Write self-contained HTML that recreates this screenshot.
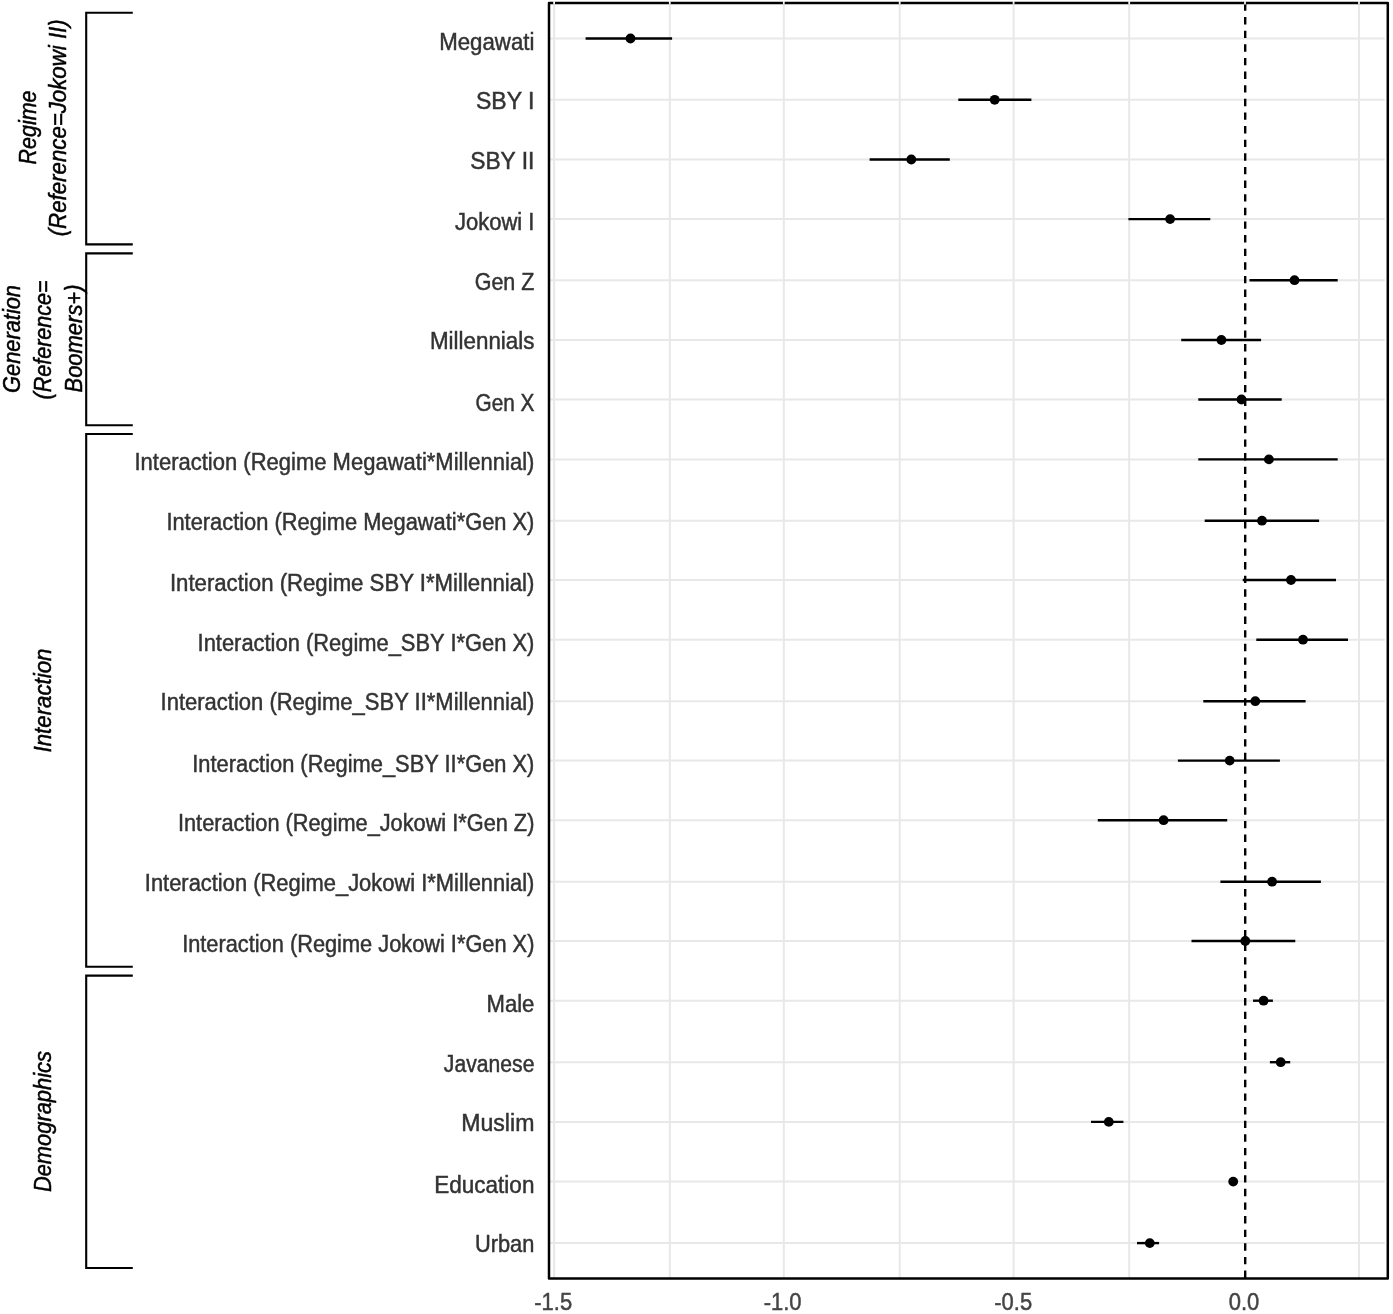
<!DOCTYPE html>
<html lang="en"><head><meta charset="utf-8"><title>Coefficient plot</title>
<style>html,body{margin:0;padding:0;background:#fff}svg{display:block}text{font-family:"Liberation Sans",Arial,sans-serif}.yl{font-size:22px;fill:#333;stroke:#333;stroke-width:.45px;text-anchor:end}.xl{font-size:22px;fill:#444;stroke:#444;stroke-width:.45px;text-anchor:middle}.gl{font-size:22px;font-style:italic;fill:#000;stroke:#000;stroke-width:.45px;text-anchor:middle}</style></head><body>
<svg width="1393" height="1314" viewBox="0 0 1393 1314">
<rect width="1393" height="1314" fill="#fff"/>
<g stroke="#e8e8e8" stroke-width="2" fill="none">
<line x1="554.1" y1="2.9" x2="554.1" y2="1278.5"/>
<line x1="669.8" y1="2.9" x2="669.8" y2="1278.5"/>
<line x1="783.8" y1="2.9" x2="783.8" y2="1278.5"/>
<line x1="899.7" y1="2.9" x2="899.7" y2="1278.5"/>
<line x1="1013.6" y1="2.9" x2="1013.6" y2="1278.5"/>
<line x1="1129.2" y1="2.9" x2="1129.2" y2="1278.5"/>
<line x1="1359.0" y1="2.9" x2="1359.0" y2="1278.5"/>
<line x1="549.0" y1="38.5" x2="1384.8" y2="38.5"/>
<line x1="549.0" y1="99.8" x2="1384.8" y2="99.8"/>
<line x1="549.0" y1="159.5" x2="1384.8" y2="159.5"/>
<line x1="549.0" y1="219.1" x2="1384.8" y2="219.1"/>
<line x1="549.0" y1="280.2" x2="1384.8" y2="280.2"/>
<line x1="549.0" y1="340.0" x2="1384.8" y2="340.0"/>
<line x1="549.0" y1="399.5" x2="1384.8" y2="399.5"/>
<line x1="549.0" y1="459.4" x2="1384.8" y2="459.4"/>
<line x1="549.0" y1="520.7" x2="1384.8" y2="520.7"/>
<line x1="549.0" y1="580.0" x2="1384.8" y2="580.0"/>
<line x1="549.0" y1="639.7" x2="1384.8" y2="639.7"/>
<line x1="549.0" y1="701.2" x2="1384.8" y2="701.2"/>
<line x1="549.0" y1="760.6" x2="1384.8" y2="760.6"/>
<line x1="549.0" y1="820.2" x2="1384.8" y2="820.2"/>
<line x1="549.0" y1="881.7" x2="1384.8" y2="881.7"/>
<line x1="549.0" y1="941.0" x2="1384.8" y2="941.0"/>
<line x1="549.0" y1="1000.7" x2="1384.8" y2="1000.7"/>
<line x1="549.0" y1="1062.2" x2="1384.8" y2="1062.2"/>
<line x1="549.0" y1="1121.9" x2="1384.8" y2="1121.9"/>
<line x1="549.0" y1="1181.6" x2="1384.8" y2="1181.6"/>
<line x1="549.0" y1="1243.1" x2="1384.8" y2="1243.1"/>
</g>
<g stroke="#000" stroke-width="2.4" fill="none">
<line x1="585.6" y1="38.5" x2="672.1" y2="38.5"/>
<line x1="958.3" y1="99.8" x2="1031.4" y2="99.8"/>
<line x1="869.6" y1="159.5" x2="949.8" y2="159.5"/>
<line x1="1128.4" y1="219.1" x2="1210.3" y2="219.1"/>
<line x1="1249.5" y1="280.2" x2="1337.7" y2="280.2"/>
<line x1="1181.2" y1="340.0" x2="1261.1" y2="340.0"/>
<line x1="1198.3" y1="399.5" x2="1281.7" y2="399.5"/>
<line x1="1198.3" y1="459.4" x2="1337.7" y2="459.4"/>
<line x1="1204.7" y1="520.7" x2="1319.1" y2="520.7"/>
<line x1="1242.7" y1="580.0" x2="1336.0" y2="580.0"/>
<line x1="1256.3" y1="639.7" x2="1348.0" y2="639.7"/>
<line x1="1203.3" y1="701.2" x2="1305.6" y2="701.2"/>
<line x1="1177.9" y1="760.6" x2="1279.9" y2="760.6"/>
<line x1="1097.8" y1="820.2" x2="1227.2" y2="820.2"/>
<line x1="1220.4" y1="881.7" x2="1320.9" y2="881.7"/>
<line x1="1191.5" y1="941.0" x2="1295.3" y2="941.0"/>
<line x1="1253.0" y1="1000.7" x2="1272.9" y2="1000.7"/>
<line x1="1269.9" y1="1062.2" x2="1290.2" y2="1062.2"/>
<line x1="1091.0" y1="1121.9" x2="1123.4" y2="1121.9"/>
<line x1="1137.0" y1="1243.1" x2="1159.1" y2="1243.1"/>
</g>
<g fill="#000">
<circle cx="630.5" cy="38.5" r="4.9"/>
<circle cx="994.7" cy="99.8" r="4.9"/>
<circle cx="911.3" cy="159.5" r="4.9"/>
<circle cx="1170.1" cy="219.1" r="4.9"/>
<circle cx="1294.5" cy="280.2" r="4.9"/>
<circle cx="1221.4" cy="340.0" r="4.9"/>
<circle cx="1241.5" cy="399.5" r="4.9"/>
<circle cx="1268.9" cy="459.4" r="4.9"/>
<circle cx="1262.0" cy="520.7" r="4.9"/>
<circle cx="1291.0" cy="580.0" r="4.9"/>
<circle cx="1303.0" cy="639.7" r="4.9"/>
<circle cx="1255.3" cy="701.2" r="4.9"/>
<circle cx="1229.7" cy="760.6" r="4.9"/>
<circle cx="1163.6" cy="820.2" r="4.9"/>
<circle cx="1272.1" cy="881.7" r="4.9"/>
<circle cx="1245.3" cy="941.0" r="4.9"/>
<circle cx="1263.6" cy="1000.7" r="4.9"/>
<circle cx="1280.7" cy="1062.2" r="4.9"/>
<circle cx="1108.8" cy="1121.9" r="4.9"/>
<circle cx="1233.2" cy="1181.6" r="4.9"/>
<circle cx="1149.8" cy="1243.1" r="4.9"/>
</g>
<line x1="1245.2" y1="1278.5" x2="1245.2" y2="2.9" stroke="#000" stroke-width="2.4" stroke-dasharray="7.4 6.224" stroke-dashoffset="-0.6"/>
<rect x="549.0" y="2.9" width="838.8" height="1275.6" fill="none" stroke="#000" stroke-width="2.5" stroke-linejoin="round"/>
<g stroke="#f2f2f2" stroke-width="1.8">
<line x1="554.1" y1="0.8" x2="554.1" y2="4.6"/>
<line x1="669.8" y1="0.8" x2="669.8" y2="4.6"/>
<line x1="783.8" y1="0.8" x2="783.8" y2="4.6"/>
<line x1="899.7" y1="0.8" x2="899.7" y2="4.6"/>
<line x1="1013.6" y1="0.8" x2="1013.6" y2="4.6"/>
<line x1="1129.2" y1="0.8" x2="1129.2" y2="4.6"/>
<line x1="1245.0" y1="0.8" x2="1245.0" y2="4.6"/>
<line x1="1359.0" y1="0.8" x2="1359.0" y2="4.6"/>
</g>
<text class="yl" transform="translate(534.4 49.5) scale(1.0110 1.100)">Megawati</text>
<text class="yl" transform="translate(534.4 109.3) scale(1.0482 1.100)">SBY I</text>
<text class="yl" transform="translate(534.4 168.6) scale(1.0368 1.100)">SBY II</text>
<text class="yl" transform="translate(534.4 230.2) scale(1.0000 1.100)">Jokowi I</text>
<text class="yl" transform="translate(534.4 289.9) scale(0.9767 1.100)">Gen Z</text>
<text class="yl" transform="translate(534.4 349.4) scale(1.0178 1.100)">Millennials</text>
<text class="yl" transform="translate(534.4 411.0) scale(0.9444 1.100)">Gen X</text>
<text class="yl" transform="translate(534.4 470.3) scale(1.0005 1.100)">Interaction (Regime Megawati*Millennial)</text>
<text class="yl" transform="translate(534.4 529.7) scale(0.9940 1.100)">Interaction (Regime Megawati*Gen X)</text>
<text class="yl" transform="translate(534.4 591.3) scale(1.0089 1.100)">Interaction (Regime SBY I*Millennial)</text>
<text class="yl" transform="translate(534.4 650.8) scale(0.9958 1.100)">Interaction (Regime_SBY I*Gen X)</text>
<text class="yl" transform="translate(534.4 710.4) scale(1.0005 1.100)">Interaction (Regime_SBY II*Millennial)</text>
<text class="yl" transform="translate(534.4 771.7) scale(0.9941 1.100)">Interaction (Regime_SBY II*Gen X)</text>
<text class="yl" transform="translate(534.4 831.4) scale(0.9883 1.100)">Interaction (Regime_Jokowi I*Gen Z)</text>
<text class="yl" transform="translate(534.4 890.9) scale(0.9959 1.100)">Interaction (Regime_Jokowi I*Millennial)</text>
<text class="yl" transform="translate(534.4 952.2) scale(0.9904 1.100)">Interaction (Regime Jokowi I*Gen X)</text>
<text class="yl" transform="translate(534.4 1011.9) scale(1.0044 1.100)">Male</text>
<text class="yl" transform="translate(534.4 1071.5) scale(0.9617 1.100)">Javanese</text>
<text class="yl" transform="translate(534.4 1131.4) scale(1.0509 1.100)">Muslim</text>
<text class="yl" transform="translate(534.4 1192.6) scale(1.0232 1.100)">Education</text>
<text class="yl" transform="translate(534.4 1252.0) scale(0.9930 1.100)">Urban</text>
<text class="xl" transform="translate(553.2 1310.3) scale(1 1.110)">-1.5</text>
<text class="xl" transform="translate(782.6 1310.3) scale(1 1.110)">-1.0</text>
<text class="xl" transform="translate(1013.2 1310.3) scale(1 1.110)">-0.5</text>
<text class="xl" transform="translate(1244.0 1310.3) scale(1 1.110)">0.0</text>
<g stroke="#000" stroke-width="2.1" fill="none" stroke-linejoin="miter">
<path d="M132.8 12.8 H86.2 V244.4 H132.8"/>
<path d="M132.8 253.4 H86.2 V425.2 H132.8"/>
<path d="M132.8 434.0 H86.2 V966.8 H132.8"/>
<path d="M132.8 975.6 H86.2 V1268.0 H132.8"/>
</g>
<text class="gl" transform="translate(35.7 127.5) rotate(-90) scale(1 1.100)" textLength="74.0" lengthAdjust="spacingAndGlyphs">Regime</text>
<text class="gl" transform="translate(66.2 127.8) rotate(-90) scale(1 1.100)" textLength="217.0" lengthAdjust="spacingAndGlyphs">(Reference=Jokowi II)</text>
<text class="gl" transform="translate(20.1 339.0) rotate(-90) scale(1 1.100)" textLength="108.0" lengthAdjust="spacingAndGlyphs">Generation</text>
<text class="gl" transform="translate(51.3 340.0) rotate(-90) scale(1 1.100)" textLength="119.0" lengthAdjust="spacingAndGlyphs">(Reference=</text>
<text class="gl" transform="translate(81.8 338.5) rotate(-90) scale(1 1.100)" textLength="108.0" lengthAdjust="spacingAndGlyphs">Boomers+)</text>
<text class="gl" transform="translate(51.3 700.5) rotate(-90) scale(1 1.100)" textLength="104.0" lengthAdjust="spacingAndGlyphs">Interaction</text>
<text class="gl" transform="translate(51.0 1121.6) rotate(-90) scale(1 1.100)" textLength="141.0" lengthAdjust="spacingAndGlyphs">Demographics</text>
</svg></body></html>
